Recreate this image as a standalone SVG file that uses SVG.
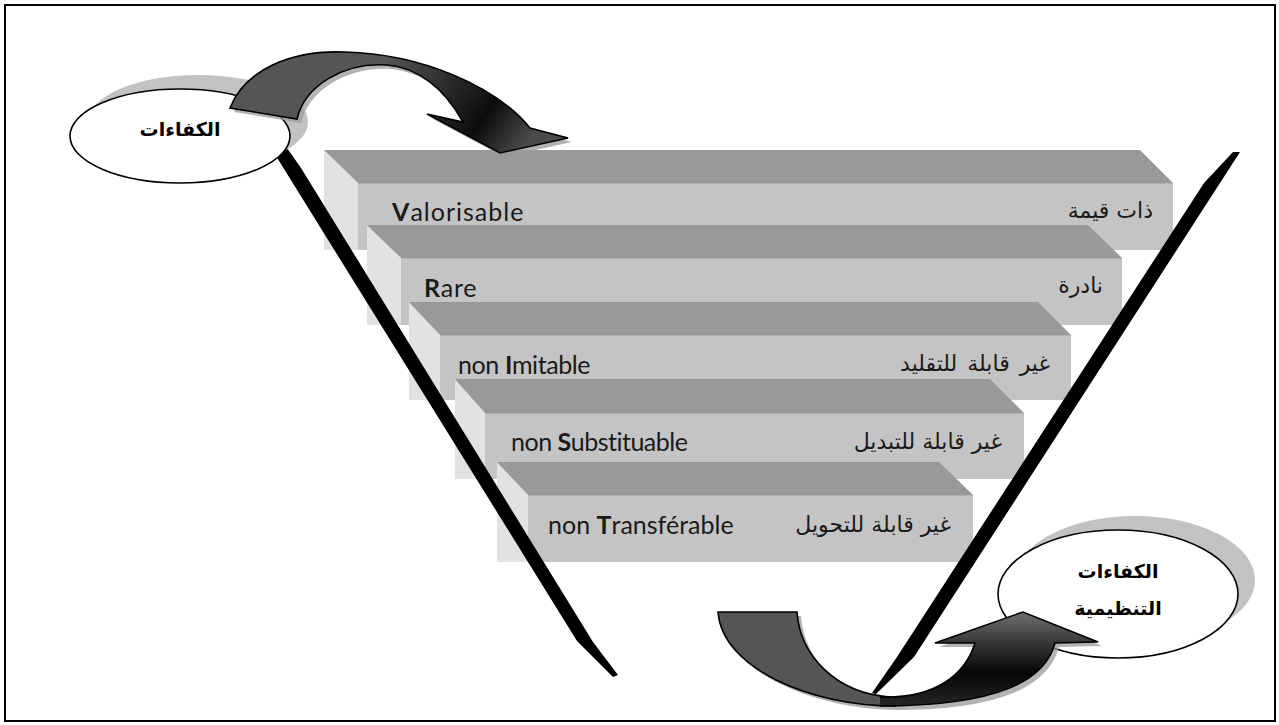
<svg xmlns="http://www.w3.org/2000/svg" width="1279" height="725" viewBox="0 0 1279 725">
  <defs>
    <style>
      .top { fill: #999999; }
      .side { fill: #e2e2e2; }
      .front { fill: #c4c4c4; }
      .edge { fill: none; stroke: #b2b2b2; stroke-width: 1; }
      .lat { font-family: Lato, "Open Sans", sans-serif; font-size: 25px; fill: #1a1a1a; }
      .ar { font-family: "DejaVu Sans", sans-serif; font-size: 22px; fill: #1a1a1a; }
      .lbl { font-family: "DejaVu Sans", sans-serif; font-size: 19px; font-weight: bold; fill: #000; text-anchor: middle; }
      .bubble { fill: #ffffff; stroke: #000; stroke-width: 1.6; }
      .bubble-shadow { fill: #c2c2c2; }
      .arrow-line { stroke: #000; stroke-width: 1.6; stroke-linejoin: miter; }
      .arrow-shadow { fill: #9a9a9a; opacity: 0.75; }
      .pen { fill: #000; }
    </style>
    <linearGradient id="gTop" gradientUnits="userSpaceOnUse" x1="385" y1="60" x2="520" y2="152">
      <stop offset="0" stop-color="#555555"/>
      <stop offset="0.45" stop-color="#262626"/>
      <stop offset="0.7" stop-color="#0c0c0c"/>
      <stop offset="1" stop-color="#4a4a4a"/>
    </linearGradient>
    <linearGradient id="gBottom" gradientUnits="userSpaceOnUse" x1="0" y1="612" x2="0" y2="706">
      <stop offset="0" stop-color="#707070"/>
      <stop offset="0.35" stop-color="#333333"/>
      <stop offset="0.65" stop-color="#060606"/>
      <stop offset="1" stop-color="#262626"/>
    </linearGradient>
  </defs>

  <!-- frame -->
  <rect x="5" y="5" width="1270" height="716" fill="#ffffff" stroke="#000" stroke-width="2"/>

  <!-- stacked 3D bars, drawn back to front -->
  <g id="bar-valorisable">
    <polygon class="side" points="324,150 358,183 358,250 324,250"/>
    <polygon class="top" points="324,150 1140,150 1173,183 358,183"/>
    <rect class="front" x="358" y="183" width="815" height="67"/>
    <line class="edge" x1="358" y1="183.5" x2="1173" y2="183.5"/>
    <text class="lat" x="392" y="221" letter-spacing="1"><tspan font-weight="bold">V</tspan>alorisable</text>
    <text class="ar" x="1153" y="218" text-anchor="end">ذات قيمة</text>
  </g>
  <g id="bar-rare">
    <polygon class="side" points="367,225 401,258 401,325 367,325"/>
    <polygon class="top" points="367,225 1088,225 1122,258 401,258"/>
    <rect class="front" x="401" y="258" width="721" height="67"/>
    <line class="edge" x1="401" y1="258.5" x2="1122" y2="258.5"/>
    <text class="lat" x="424" y="297" letter-spacing="0.7"><tspan font-weight="bold">R</tspan>are</text>
    <text class="ar" x="1103" y="293" text-anchor="end">نادرة</text>
  </g>
  <g id="bar-imitable">
    <polygon class="side" points="409,302 440,335 440,400 409,400"/>
    <polygon class="top" points="409,302 1038,302 1071,335 440,335"/>
    <rect class="front" x="440" y="335" width="631" height="65"/>
    <line class="edge" x1="440" y1="335.5" x2="1071" y2="335.5"/>
    <text class="lat" x="458" y="374" letter-spacing="-0.4">non <tspan font-weight="bold">I</tspan>mitable</text>
    <text class="ar" x="1050" y="371" text-anchor="end" word-spacing="3">غير قابلة للتقليد</text>
  </g>
  <g id="bar-substituable">
    <polygon class="side" points="455,379 485,413 485,479 455,479"/>
    <polygon class="top" points="455,379 990,379 1024,413 485,413"/>
    <rect class="front" x="485" y="413" width="539" height="66"/>
    <line class="edge" x1="485" y1="413.5" x2="1024" y2="413.5"/>
    <text class="lat" x="511" y="451" letter-spacing="-0.5">non <tspan font-weight="bold">S</tspan>ubstituable</text>
    <text class="ar" x="1002" y="449" text-anchor="end">غير قابلة للتبديل</text>
  </g>
  <g id="bar-transferable">
    <polygon class="side" points="497,462 528,495 528,562 497,562"/>
    <polygon class="top" points="497,462 939,462 973,495 528,495"/>
    <rect class="front" x="528" y="495" width="445" height="67"/>
    <line class="edge" x1="528" y1="495.5" x2="973" y2="495.5"/>
    <text class="lat" x="548" y="534">non <tspan font-weight="bold">T</tspan>ransférable</text>
    <text class="ar" x="951" y="532" text-anchor="end">غير قابلة للتحويل</text>
  </g>

  <!-- funnel sides: two tapered strokes -->
  <g id="funnel">
    <polygon class="pen" points="276,156 287,148 301,168 593,642 618,675 613,677 577,641"/>
    <polygon class="pen" points="1233,152 1240,152 914,657 876,694 872,693 897,657 1204,183"/>
  </g>

  <!-- source bubble -->
  <g id="node-competences">
    <ellipse class="bubble-shadow" cx="198" cy="122" rx="110" ry="47"/>
    <ellipse class="bubble" cx="180" cy="136" rx="110" ry="47"/>
    <text class="lbl" x="180" y="136">الكفاءات</text>
  </g>

  <!-- target bubble -->
  <g id="node-competences-org">
    <ellipse class="bubble-shadow" cx="1135" cy="580" rx="120" ry="64"/>
    <ellipse class="bubble" cx="1118" cy="594" rx="120" ry="64"/>
    <text class="lbl" x="1118" y="578">الكفاءات</text>
    <text class="lbl" x="1118" y="615">التنظيمية</text>
  </g>

  <!-- curved block arrows -->
  <g id="connectors">
    <g id="arrow-in">
      <path class="arrow-shadow" transform="translate(4,4)" d="M230,108 C245,70 290,50 345,52 C420,54 495,85 530,128 L568,138 L500,153 L427,114 L463,122 C445,90 420,68 387,65 C345,62 305,85 297,119 Z"/>
      <path class="arrow-line" fill="url(#gTop)" d="M230,108 C245,70 290,50 345,52 C420,54 495,85 530,128 L568,138 L500,153 L427,114 L463,122 C445,90 420,68 387,65 C345,62 305,85 297,119 Z"/>
    </g>
    <g id="arrow-out">
      <path class="arrow-shadow" transform="translate(4,4)" d="M718,612 L797,612 C800,655 835,693 890,697 C935,698 965,675 975,643 L935,643 L1023,612 L1098,642 L1055,643 C1045,680 1000,706 895,706 C810,706 722,668 718,612 Z"/>
      <path class="arrow-line" fill="#555555" d="M718,612 L797,612 C800,655 835,693 890,697 L895,706 C810,706 722,668 718,612 Z"/>
      <path class="arrow-line" fill="url(#gBottom)" d="M880,697 C935,699 965,675 975,643 L935,643 L1023,612 L1098,642 L1055,643 C1045,680 1000,706 880,706"/>
    </g>
  </g>
</svg>
